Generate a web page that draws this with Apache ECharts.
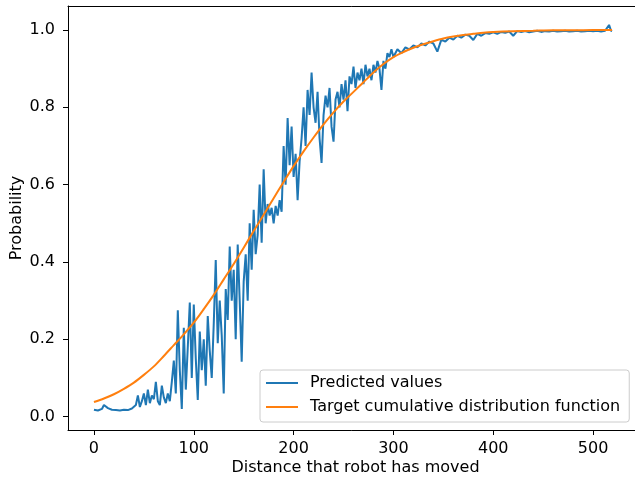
<!DOCTYPE html>
<html>
<head>
<meta charset="utf-8">
<script src="https://cdn.jsdelivr.net/npm/echarts@6/dist/echarts.min.js"></script>
<style>
html,body{margin:0;padding:0;background:#fff;}
#chart{width:635px;height:479px;}
</style>
</head>
<body>
<div id="chart"></div>
<script>
// Predicted values (blue)
var predictedX = [0,2,4,6,8,10,12,14,16,18,20,22,24,26,28,30,32,34,36,38,40,
42,44,46,48,50,52,54,56,58,60,62,64,66,68,70,72,74,76,78,80,82,84,86,88,90,92,94,96,98,100,
102,104,106,108,110,112,114,116,118,120,122,124,126,128,130,132,134,136,138,140,142,144,146,148,150,
152,154,156,158,160,162,164,166,168,170,172,174,176,178,180,182,184,186,188,190,192,194,196,198,200,
202,204,206,208,210,212,214,216,218,220,222,224,226,228,230,232,234,236,238,240,242,244,246,248,250,
252,254,256,258,260,262,264,266,268,270,272,274,276,278,280,282,284,286,288,290,292,294,296,298,300,
304,308,312,316,320,324,328,332,336,340,344,348,352,356,360,364,368,372,376,380,384,388,392,396,400,
404,408,412,416,420,424,428,432,436,440,444,448,452,456,460,464,468,472,476,480,484,488,492,496,500,
504,508,512,514,516,518,519];
var predictedY = [0.018,0.017,0.016,0.018,0.02,0.03,0.027,0.022,0.02,0.018,0.02,0.017,0.02,0.016,0.019,0.018,0.02,0.017,0.019,0.021,0.02,
0.03,0.055,0.025,0.04,0.06,0.03,0.07,0.035,0.055,0.045,0.09,0.04,0.03,0.08,0.05,0.035,0.06,0.04,0.09,0.145,0.06,0.275,0.12,0.02,0.23,0.07,0.18,0.295,0.1,0.29,
0.15,0.043,0.22,0.12,0.2,0.08,0.26,0.17,0.1,0.24,0.405,0.19,0.3,0.21,0.06,0.33,0.25,0.44,0.3,0.38,0.2,0.445,0.3,0.142,0.35,
0.42,0.3,0.5,0.38,0.535,0.42,0.47,0.6,0.45,0.64,0.5,0.55,0.52,0.54,0.5,0.545,0.52,0.56,0.53,0.7,0.6,0.772,0.65,0.75,0.62,
0.68,0.56,0.66,0.72,0.8,0.7,0.845,0.78,0.89,0.8,0.76,0.84,0.72,0.656,0.78,0.83,0.8,0.85,0.75,0.711,0.82,0.84,0.8,0.86,0.82,
0.87,0.79,0.88,0.86,0.905,0.85,0.89,0.87,0.9,0.86,0.91,0.88,0.9,0.87,0.91,0.89,0.92,0.9,0.845,0.92,0.9,0.94,0.93,0.95,0.93,
0.95,0.94,0.955,0.95,0.96,0.955,0.965,0.96,0.97,0.965,0.944,0.975,0.97,0.98,0.975,0.985,0.98,0.988,0.985,0.974,0.99,0.985,0.992,0.99,0.994,
0.99,0.995,0.993,0.996,0.985,0.997,0.995,0.997,0.994,0.996,0.998,0.995,0.997,0.996,0.998,0.996,0.997,0.998,0.996,0.997,0.998,0.996,0.997,0.998,0.997,
0.998,0.996,0.998,1.0,1.013,0.998,0.997];

// Target cumulative distribution function (orange)
var targetX = [0,10,20,30,40,50,60,70,80,90,100,110,120,130,140,150,160,170,180,190,200,
210,220,230,240,250,260,270,280,290,300,310,320,330,340,350,360,370,380,390,400,420,440,460,480,500,519];
var targetY = [0.038,0.047,0.058,0.072,0.088,0.108,0.13,0.157,0.185,0.213,0.243,0.278,0.315,0.355,0.395,0.437,0.48,0.522,0.565,0.607,0.648,
0.686,0.722,0.756,0.787,0.815,0.84,0.865,0.89,0.912,0.93,0.943,0.954,0.963,0.971,0.978,0.983,0.987,0.99,0.993,0.995,0.997,0.998,0.999,0.999,1.0,1.0];

var xTicks = [0,100,200,300,400,500];
var yTicks = [0,0.2,0.4,0.6,0.8,1.0];

var seriesNames = ['Predicted values','Target cumulative distribution function'];

function pairs(xs, ys){ var o=[]; for(var i=0;i<xs.length;i++){o.push([xs[i],ys[i]]);} return o; }

var FONT = 'DejaVu Sans';
var FS = 16;
var chart = echarts.init(document.getElementById('chart'), null, {renderer:'canvas'});
chart.setOption({
  animation:false,
  backgroundColor:'#fff',
  grid:{left:68, top:6, width:575, height:424, show:false, containLabel:false, outerBoundsMode:'none'},
  legend:{
    orient:'vertical', left:260, top:370,
    padding:[5,9,7,6], itemGap:8, itemWidth:32, itemHeight:2,
    icon:'rect',
    backgroundColor:'rgba(255,255,255,0.8)', borderColor:'#cccccc', borderWidth:1, borderRadius:3,
    textStyle:{fontFamily:FONT, fontSize:FS, color:'#000', lineHeight:16, padding:[0,0,0,7]},
    data:seriesNames
  },
  xAxis:[{
    type:'value', min:-26, max:550,
    name:'Distance that robot has moved', nameLocation:'middle', nameGap:30, nameMoveOverlap:false,
    nameTextStyle:{fontFamily:FONT, fontSize:FS, color:'#000'},
    axisLine:{show:true, onZero:false, lineStyle:{color:'#000', width:1}},
    axisTick:{show:true, length:5, customValues:xTicks, lineStyle:{color:'#000'}},
    axisLabel:{customValues:xTicks, margin:11, fontFamily:FONT, fontSize:FS, color:'#000'},
    splitLine:{show:false}
  },{
    type:'value', position:'top', min:-26, max:550,
    axisLine:{show:true, onZero:false, lineStyle:{color:'#000', width:1}},
    axisTick:{show:false}, axisLabel:{show:false}, splitLine:{show:false}
  }],
  yAxis:{
    type:'value', min:-0.0345, max:1.062,
    name:'Probability', nameLocation:'middle', nameGap:43, nameMoveOverlap:false,
    nameTextStyle:{fontFamily:FONT, fontSize:FS, color:'#000'},
    axisLine:{show:true, onZero:false, lineStyle:{color:'#000', width:1}},
    axisTick:{show:true, length:5, customValues:yTicks, lineStyle:{color:'#000'}},
    axisLabel:{customValues:yTicks, margin:13, fontFamily:FONT, fontSize:FS, color:'#000',
      formatter:function(v){return v.toFixed(1);}},
    splitLine:{show:false}
  },
  series:[
    {name:seriesNames[0], type:'line', data:pairs(predictedX,predictedY), showSymbol:false, symbol:'none',
     lineStyle:{color:'#1f77b4', width:2}, itemStyle:{color:'#1f77b4'}, z:2},
    {name:seriesNames[1], type:'line', data:pairs(targetX,targetY), showSymbol:false, symbol:'none', smooth:0.3,
     lineStyle:{color:'#ff7f0e', width:2}, itemStyle:{color:'#ff7f0e'}, z:3}
  ]
});
</script>
</body>
</html>
